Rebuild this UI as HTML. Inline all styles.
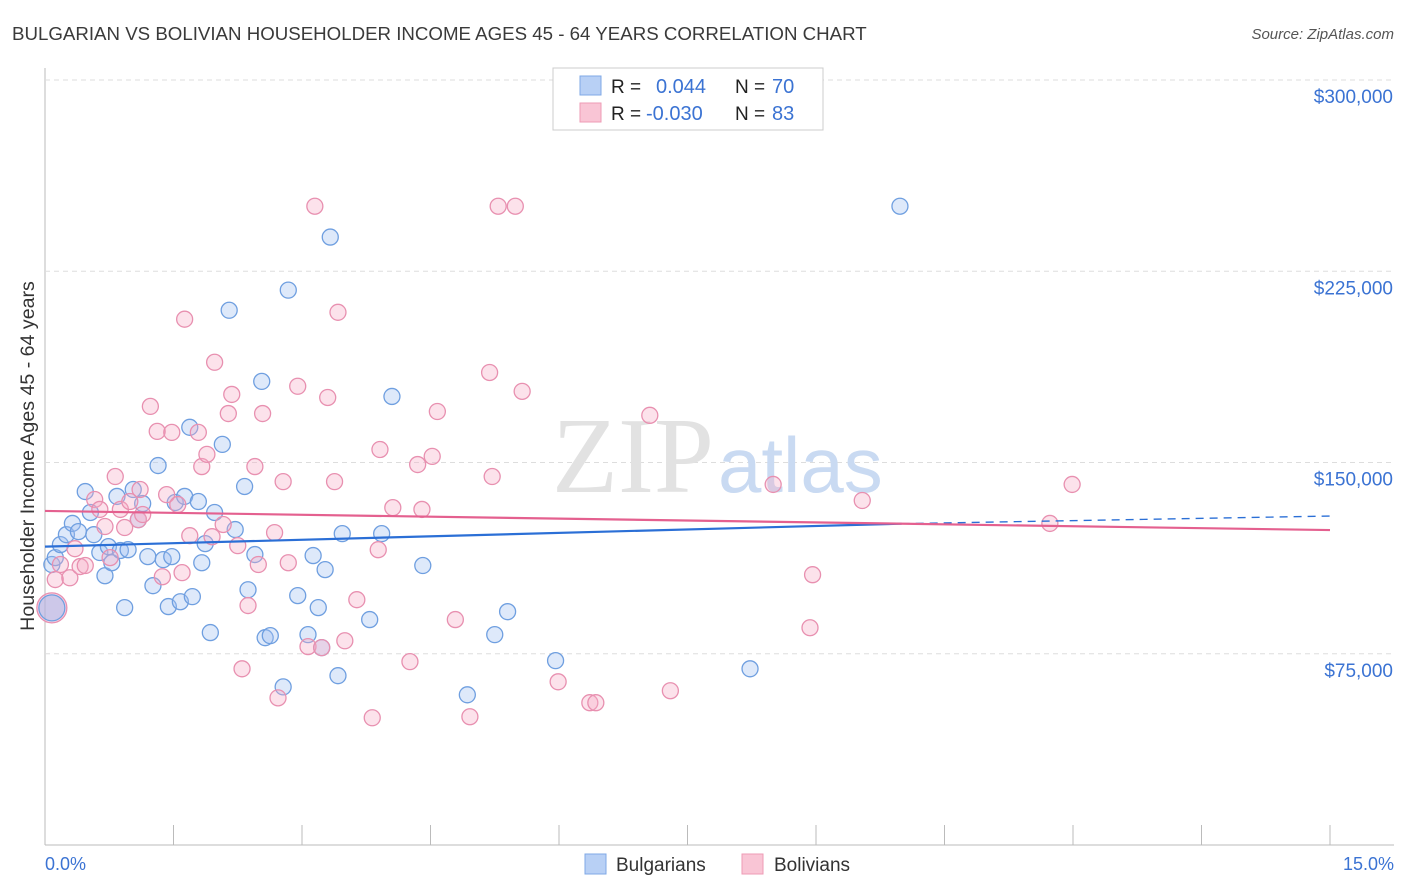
<!DOCTYPE html>
<html><head><meta charset="utf-8"><style>
body{margin:0;background:#fff;font-family:"Liberation Sans",sans-serif;}
svg{display:block}
</style></head><body>
<svg id="chart" width="1406" height="892">
<text x="12" y="40" font-size="18.7" fill="#3a3a3a">BULGARIAN VS BOLIVIAN HOUSEHOLDER INCOME AGES 45 - 64 YEARS CORRELATION CHART</text>
<text x="1394" y="39" font-size="15" fill="#555" font-style="italic" text-anchor="end">Source: ZipAtlas.com</text>
<text x="0" y="0" transform="translate(34,456) rotate(-90)" font-size="19.6" fill="#333" text-anchor="middle">Householder Income Ages 45 - 64 years</text>
<g id="grid"></g>
<text x="552" y="492" font-size="108" fill="#e2e2e2" font-family="Liberation Serif,serif">ZIP</text>
<text x="718" y="492" font-size="78" fill="#c9daf2">atlas</text>
<g id="points"></g>
<g id="trends"></g>
<g>
<rect x="553" y="68" width="270" height="62" fill="#fff" stroke="#ccc"/>
<rect x="580" y="76" width="21" height="19" fill="#b8d0f5" stroke="#7fa8e6"/>
<rect x="580" y="103" width="21" height="19" fill="#f9c5d5" stroke="#ee9bb5"/>
<text x="611" y="93" font-size="19" fill="#222">R =</text><text x="656" y="93" font-size="20" fill="#3b73d3">0.044</text>
<text x="735" y="93" font-size="19" fill="#222">N =</text><text x="772" y="93" font-size="20" fill="#3b73d3">70</text>
<text x="611" y="120" font-size="19" fill="#222">R =</text><text x="646" y="120" font-size="20" fill="#3b73d3">-0.030</text>
<text x="735" y="120" font-size="19" fill="#222">N =</text><text x="772" y="120" font-size="20" fill="#3b73d3">83</text>
</g>
<g>
<rect x="585" y="854" width="21" height="20" fill="#b8d0f5" stroke="#7fa8e6"/>
<text x="616" y="871" font-size="19" fill="#333">Bulgarians</text>
<rect x="742" y="854" width="21" height="20" fill="#f9c5d5" stroke="#ee9bb5"/>
<text x="774" y="871" font-size="19" fill="#333">Bolivians</text>
</g>
<text x="45" y="870" font-size="18" fill="#3b73d3">0.0%</text>
<text x="1394" y="870" font-size="18" fill="#3b73d3" text-anchor="end">15.0%</text>
</svg>
<script>
const yTicks=[75000,150000,225000,300000];
const yTickLabels=["$75,000","$150,000","$225,000","$300,000"];
const bulX=[.08,.12,.18,.25,.32,.39,.47,.53,.57,.64,.70,.74,.78,.84,.88,.93,.97,1.03,1.09,1.14,1.20,1.26,1.32,1.38,1.44,1.48,1.52,1.58,1.63,1.69,1.72,1.79,1.83,1.87,1.93,1.98,2.07,2.15,2.22,2.33,2.37,2.45,2.53,2.57,2.63,2.78,2.84,2.95,3.07,3.13,3.19,3.23,3.27,3.33,3.42,3.47,3.79,3.93,4.05,4.41,4.93,5.25,5.40,5.96,8.23,9.98];
const bulY=[110.0,112.7,117.8,121.7,126.1,122.9,138.6,130.4,121.7,114.7,105.6,117.0,110.7,136.7,115.5,93.1,115.8,139.4,127.6,133.9,113.1,101.7,148.8,111.9,93.5,113.1,134.3,95.4,136.7,163.8,97.4,134.7,110.7,118.2,83.3,130.4,157.1,209.7,123.7,140.6,100.1,113.9,181.8,81.3,82.1,62.0,217.6,97.8,82.5,113.5,93.1,77.4,108.0,238.4,66.4,122.1,88.4,122.1,175.9,109.6,58.9,82.5,91.5,72.3,69.1,250.5];
const bolX=[.12,.18,.29,.35,.41,.47,.58,.64,.70,.76,.82,.88,.93,.99,1.09,1.11,1.14,1.23,1.31,1.37,1.42,1.48,1.55,1.60,1.63,1.69,1.79,1.83,1.89,1.95,1.98,2.08,2.14,2.18,2.25,2.30,2.37,2.45,2.49,2.54,2.68,2.72,2.78,2.84,2.95,3.07,3.15,3.23,3.30,3.38,3.42,3.50,3.64,3.82,3.89,3.91,4.06,4.26,4.35,4.40,4.52,4.58,4.79,4.96,5.19,5.22,5.29,5.49,5.57,5.99,6.36,6.43,7.06,7.30,8.50,8.96,8.93,9.54,11.73,11.99];
const bolY=[104.1,110.0,104.8,116.2,109.2,109.6,135.5,131.6,124.9,112.7,144.5,131.6,124.5,134.7,127.6,139.4,129.6,172.0,162.2,105.2,137.4,161.8,133.5,106.8,206.2,121.3,161.8,148.4,153.2,120.9,189.3,125.7,169.2,176.7,117.4,69.1,93.9,148.4,110.0,169.2,122.5,57.7,142.5,110.7,179.9,77.8,250.5,77.4,175.5,142.5,208.9,80.1,96.2,49.9,115.8,155.1,132.3,71.9,149.2,131.6,152.4,170.0,88.4,50.3,185.3,144.5,250.5,250.5,177.9,64.0,55.8,55.8,168.5,60.5,141.4,106.0,85.2,135.1,126.1,141.4];
const bigX=[0.08], bigYBul=[93], bigYBol=[93];
const trendBul=[117000,126000,129000]; // at x=0, 10, 15
const trendBol=[131000,123500];       // at x=0, 15
const X=p=>45+p/15*1285, Y=v=>845-v/300000*765;
const NS="http://www.w3.org/2000/svg";
function mk(tag,attrs,parent){const e=document.createElementNS(NS,tag);for(const k in attrs)e.setAttribute(k,attrs[k]);parent.appendChild(e);return e;}
const grid=document.getElementById('grid');
let ax=mk('line',{x1:45,y1:68,x2:45,y2:845,stroke:'#bbb'},grid);


let bx=mk('line',{x1:45,y1:845,x2:1394,y2:845,stroke:'#bbb'},grid);


for(let i=0;i<=10;i++){let t=mk('line',{x1:X(i*1.5),y1:825,x2:X(i*1.5),y2:845,stroke:'#bbb'},grid);

}
yTicks.forEach((v,i)=>{let g=mk('line',{x1:45,y1:Y(v),x2:1394,y2:Y(v),stroke:'#ddd','stroke-dasharray':'5,4'},grid);


let t=mk('text',{x:1393,y:Y(v)+23,'font-size':19,fill:'#3b73d3','text-anchor':'end'},grid);t.textContent=yTickLabels[i];

});
const pts=document.getElementById('points');
function dot(x,y,r,fill,stroke,name){let c=mk('circle',{cx:X(x),cy:Y(y*1000),r:r,fill:fill,stroke:stroke,'stroke-width':1.3},pts);

}
bigX.forEach((x,i)=>{dot(x,bigYBol[i],15,'rgba(245,165,195,0.45)','#e890b0','bolivian-point-large');dot(x,bigYBul[i],13,'rgba(150,185,240,0.45)','#6f9fe0','bulgarian-point-large');});
bulX.forEach((x,i)=>dot(x,bulY[i],8,'rgba(160,192,242,0.35)','#6f9fe0','bulgarian-point'));
bolX.forEach((x,i)=>dot(x,bolY[i],8,'rgba(246,172,198,0.35)','#e890b0','bolivian-point'));
const tr=document.getElementById('trends');
let l1=mk('line',{x1:X(0),y1:Y(trendBul[0]),x2:X(10),y2:Y(trendBul[1]),stroke:'#2b6fd6','stroke-width':2.2},tr);


let l2=mk('line',{x1:X(10),y1:Y(trendBul[1]),x2:X(15),y2:Y(trendBul[2]),stroke:'#2b6fd6','stroke-width':1.3,'stroke-dasharray':'8,6'},tr);


let l3=mk('line',{x1:X(0),y1:Y(trendBol[0]),x2:X(15),y2:Y(trendBol[1]),stroke:'#e4608f','stroke-width':2.2},tr);


</script>
</body></html>
